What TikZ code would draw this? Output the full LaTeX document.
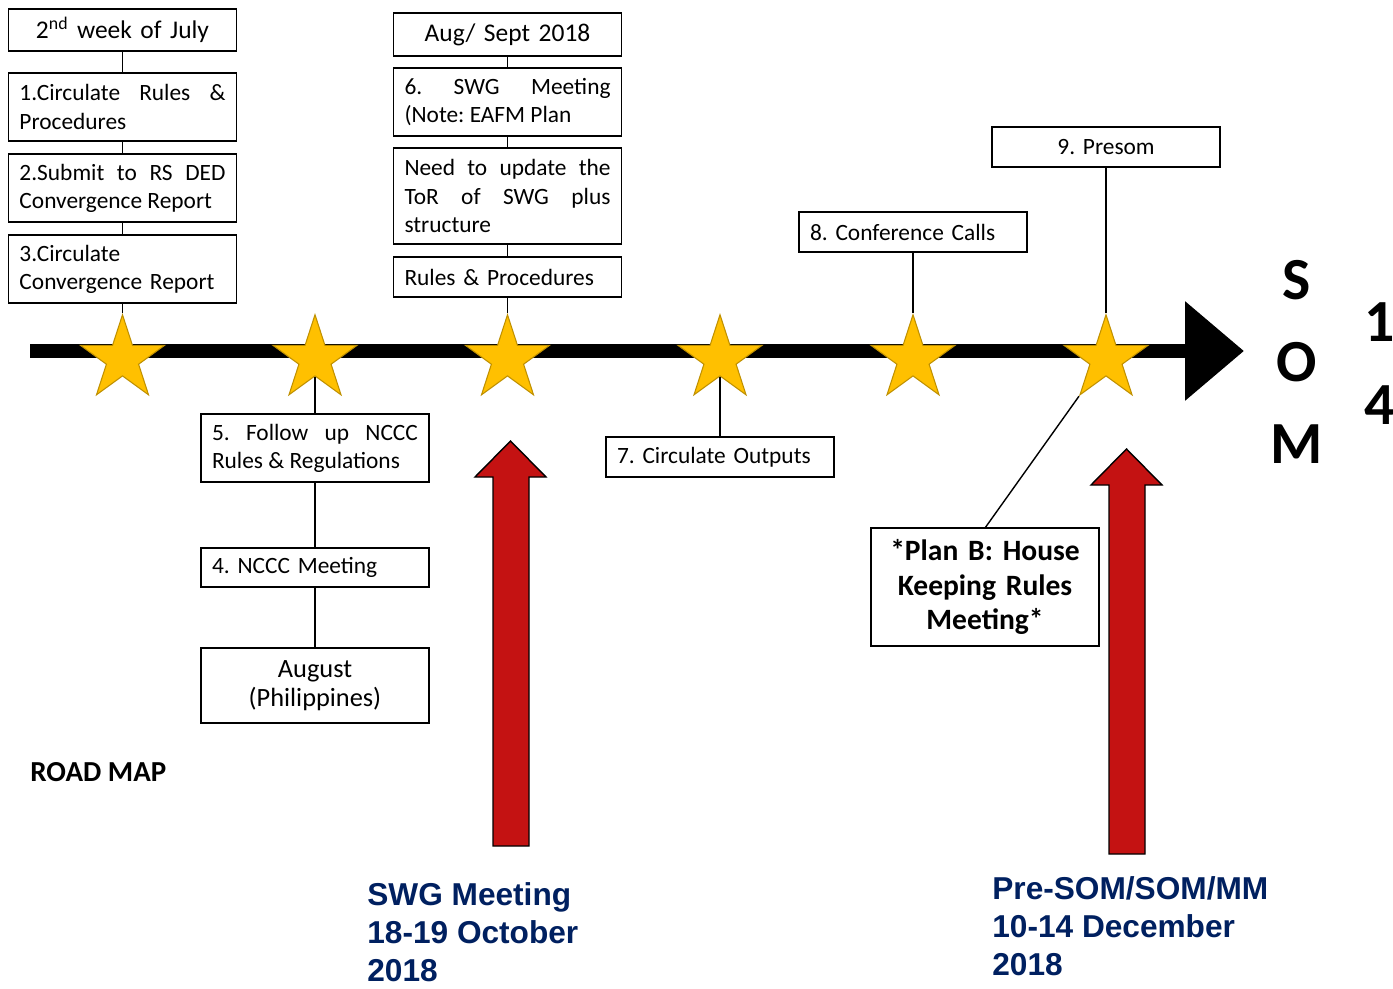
\documentclass[tikz,border=0pt]{standalone}
\usepackage{fontspec}
\setmainfont{Carlito}
\newfontfamily\arialfont{Liberation Sans}
\usetikzlibrary{arrows.meta,positioning,shapes.geometric}
\definecolor{starfill}{RGB}{255,192,0}
\definecolor{staredge}{RGB}{191,144,0}
\definecolor{arrowred}{RGB}{196,18,18}
\definecolor{navy}{RGB}{0,32,96}
\setlength{\parindent}{0pt}
\frenchspacing
\tikzset{
  box/.style={draw=black, line width=0.8pt, fill=white, text width=4.12cm,
    inner xsep=0.22cm, inner ysep=0pt, outer sep=0pt, align=justify,
    font=\fontsize{13.3}{16}\selectfont},
  starnode/.style={star, star points=5, star point ratio=2.618, minimum size=1.77cm,
    inner sep=0pt, fill=starfill, draw=staredge, line width=0.6pt},
  link/.style={line width=0.8pt},
  redarrow/.style={fill=arrowred, draw=black, line width=0.8pt, line join=miter},
  bluetext/.style={anchor=north west, inner sep=0pt, align=left, text=navy,
    font=\arialfont\bfseries\fontsize{18}{21.7}\selectfont},
}

\begin{document}
\begin{tikzpicture}[node distance=0.26cm]
  \fill[white] (0,0) rectangle (27.86,-19.78);
  \useasboundingbox (0,0) rectangle (27.86,-19.78);

  % timeline
  \coordinate (tlstart) at (0.6,-7.02);
  \coordinate (tlend) at (24.88,-7.02);
  \draw[line width=0.28cm, -{Triangle[length=1.18cm,width=1.92cm]}] (tlstart) -- (tlend);

  \foreach \x/\n in {2.45/s1, 6.3/s2, 10.15/s3, 14.4/s4, 18.26/s5, 22.12/s6}
    \node[starnode] (\n) at (\x,-7.18) {};

  % july column
  \node[box, align=center, minimum height=0.84cm, font=\fontsize{14.5}{17}\selectfont] (july) at (2.45,-0.6) {2\textsuperscript{nd} week of July};
  \node[box, minimum height=1.36cm, below=0.44cm of july] (circ) {1.Circulate Rules \&\linebreak Procedures};
  \node[box, minimum height=1.36cm, below=of circ] (submit) {2.Submit to RS DED\linebreak Convergence Report};
  \node[box, align=left, minimum height=1.36cm, below=of submit] (convrep) {3.Circulate\\Convergence Report};

  % aug/sept column
  \node[box, align=center, minimum height=0.86cm, font=\fontsize{14.5}{17}\selectfont] (augsept) at (10.15,-0.69) {Aug/ Sept 2018};
  \node[box, minimum height=1.36cm, below=0.24cm of augsept] (swg) {6. SWG Meeting\linebreak (Note: EAFM Plan};
  \node[box, minimum height=1.92cm, below=0.24cm of swg] (tor) {Need to update the\linebreak ToR of SWG plus\linebreak structure};
  \node[box, align=left, minimum height=0.8cm, below=of tor] (rules) {Rules \& Procedures};

  % below the line
  \node[box, minimum height=1.36cm] (follow) at (6.3,-8.96) {5. Follow up NCCC\linebreak Rules \& Regulations};
  \node[box, align=left, minimum height=0.78cm, below=1.32cm of follow] (nccc) {4. NCCC Meeting};
  \node[box, align=center, minimum height=1.5cm, below=1.22cm of nccc, font=\fontsize{15}{16.3}\selectfont] (august) {August\\(Philippines)};
  \node[box, align=left, minimum height=0.8cm] (outputs) at (14.4,-9.14) {7. Circulate Outputs};

  % above the line
  \node[box, align=left, minimum height=0.8cm] (calls) at (18.26,-4.64) {8. Conference Calls};
  \node[box, align=center, minimum height=0.8cm] (presom) at (22.12,-2.94) {9. Presom};
  \node[box, align=center, minimum height=2.36cm, font=\bfseries\fontsize{16.8}{19.85}\selectfont] (planb) at (19.7,-11.74) {*Plan B: House\\Keeping Rules\\Meeting*};

  % links
  \draw[link] (july) -- (circ);
  \draw[link] (circ) -- (submit);
  \draw[link] (submit) -- (convrep);
  \draw[link] (convrep) -- (s1);
  \draw[link] (augsept) -- (swg);
  \draw[link] (swg) -- (tor);
  \draw[link] (tor) -- (rules);
  \draw[link] (rules) -- (s3);
  \draw[link] (s2) -- (follow);
  \draw[link] (follow) -- (nccc);
  \draw[link] (nccc) -- (august);
  \draw[link] (s4) -- (outputs);
  \draw[link] (calls) -- (s5);
  \draw[link] (presom) -- (s6);
  \draw[link] (s6.outer point 3) -- (planb.north);

  % red arrows
  \foreach \dx/\dy in {0/0, 12.32/-0.16}
    \filldraw[redarrow, shift={(\dx,\dy)}] (9.86,-16.92) -- (9.86,-9.54) -- (9.5,-9.54)
      -- (10.21,-8.82) -- (10.92,-9.54) -- (10.58,-9.54) -- (10.58,-16.92) -- cycle;

  % labels
  \node[align=center, inner sep=0pt, font=\bfseries\fontsize{34}{46.5}\selectfont] (som) at (25.94,-7.24) {S\\O\\M};
  \node[align=center, inner sep=0pt, font=\bfseries\fontsize{34}{47}\selectfont] (fourteen) at (27.6,-7.27) {1\\4};
  \node[anchor=west, inner sep=0pt, font=\bfseries\fontsize{16.5}{19}\selectfont] (roadmap) at (0.6,-15.44) {ROAD MAP};
  \node[bluetext] (swgdate) at (7.34,-17.64) {SWG Meeting\\18-19 October\\2018};
  \node[bluetext] (somdate) at (19.84,-17.52) {Pre-SOM/SOM/MM\\10-14 December\\2018};
\end{tikzpicture}
\end{document}
